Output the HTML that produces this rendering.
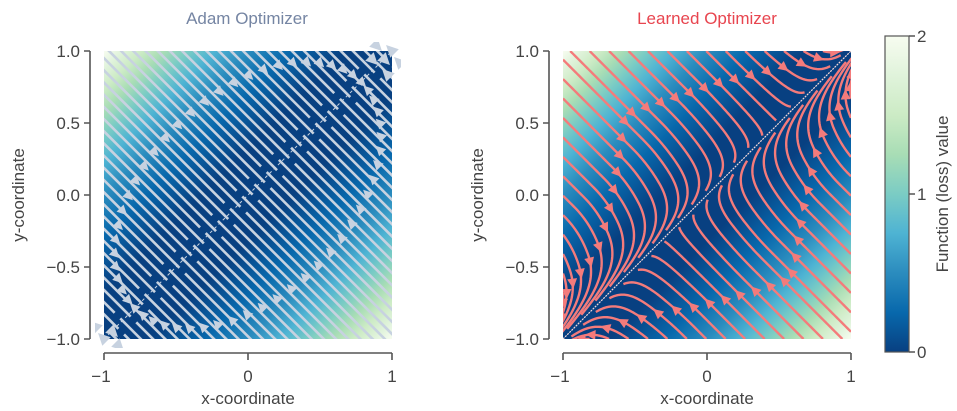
<!DOCTYPE html>
<html><head><meta charset="utf-8">
<style>
html,body{margin:0;padding:0;background:#fff;width:957px;height:411px;overflow:hidden;}
svg{display:block;font-family:"Liberation Sans",Helvetica,Arial,sans-serif;}
</style></head>
<body>
<svg id="s" width="957" height="411" viewBox="0 0 957 411" xmlns="http://www.w3.org/2000/svg">
<defs>
<linearGradient id="bgL" gradientUnits="userSpaceOnUse" x1="104" y1="51" x2="392" y2="339">
<stop offset="0" stop-color="#f7fcf0"/><stop offset="0.032" stop-color="#e0f3db"/><stop offset="0.067" stop-color="#ccebc5"/><stop offset="0.105" stop-color="#a8ddb5"/><stop offset="0.146" stop-color="#7bccc4"/><stop offset="0.194" stop-color="#4eb3d3"/><stop offset="0.25" stop-color="#2b8cbe"/><stop offset="0.323" stop-color="#0868ac"/><stop offset="0.42" stop-color="#084081"/><stop offset="0.58" stop-color="#084081"/><stop offset="0.677" stop-color="#0868ac"/><stop offset="0.75" stop-color="#2b8cbe"/><stop offset="0.806" stop-color="#4eb3d3"/><stop offset="0.854" stop-color="#7bccc4"/><stop offset="0.895" stop-color="#a8ddb5"/><stop offset="0.933" stop-color="#ccebc5"/><stop offset="0.968" stop-color="#e0f3db"/><stop offset="1" stop-color="#f7fcf0"/>
</linearGradient>
<linearGradient id="bgR" gradientUnits="userSpaceOnUse" x1="563" y1="51" x2="851" y2="339">
<stop offset="0" stop-color="#f7fcf0"/><stop offset="0.032" stop-color="#e0f3db"/><stop offset="0.067" stop-color="#ccebc5"/><stop offset="0.105" stop-color="#a8ddb5"/><stop offset="0.146" stop-color="#7bccc4"/><stop offset="0.194" stop-color="#4eb3d3"/><stop offset="0.25" stop-color="#2b8cbe"/><stop offset="0.323" stop-color="#0868ac"/><stop offset="0.42" stop-color="#084081"/><stop offset="0.58" stop-color="#084081"/><stop offset="0.677" stop-color="#0868ac"/><stop offset="0.75" stop-color="#2b8cbe"/><stop offset="0.806" stop-color="#4eb3d3"/><stop offset="0.854" stop-color="#7bccc4"/><stop offset="0.895" stop-color="#a8ddb5"/><stop offset="0.933" stop-color="#ccebc5"/><stop offset="0.968" stop-color="#e0f3db"/><stop offset="1" stop-color="#f7fcf0"/>
</linearGradient>
<linearGradient id="cb" x1="0" y1="1" x2="0" y2="0">
<stop offset="0" stop-color="#084081"/><stop offset="0.125" stop-color="#0868ac"/><stop offset="0.25" stop-color="#2b8cbe"/><stop offset="0.375" stop-color="#4eb3d3"/><stop offset="0.5" stop-color="#7bccc4"/><stop offset="0.625" stop-color="#a8ddb5"/><stop offset="0.75" stop-color="#ccebc5"/><stop offset="0.875" stop-color="#e0f3db"/><stop offset="1" stop-color="#f7fcf0"/>
</linearGradient>
<clipPath id="cL"><rect x="104" y="51" width="288" height="288"/></clipPath>
<clipPath id="cL2"><rect x="95" y="42" width="306" height="306"/></clipPath>
<clipPath id="cR"><rect x="563" y="51" width="288" height="288"/></clipPath>
</defs>

<text x="247" y="24" text-anchor="middle" font-size="17" fill="#7585a3">Adam Optimizer</text>
<text x="707" y="24" text-anchor="middle" font-size="17" fill="#e8454f">Learned Optimizer</text>

<rect x="104" y="51" width="288" height="288" fill="url(#bgL)"/>
<rect x="563" y="51" width="288" height="288" fill="url(#bgR)"/>
<g id="gL" clip-path="url(#cL)"></g>
<g id="gL2" clip-path="url(#cL2)"></g>
<g id="gR" clip-path="url(#cR)"></g>

<g stroke="#555" stroke-width="1.6" fill="none">
<path d="M90 51V339M84 51H90M84 123H90M84 195H90M84 267H90M84 339H90"/>
<path d="M104 353H392M104 353V360M248 353V360M392 353V360"/>
<path d="M549 51V339M543 51H549M543 123H549M543 195H549M543 267H549M543 339H549"/>
<path d="M563 353H851M563 353V360M707 353V360M851 353V360"/>
<path d="M909 36H915M909 194H915M909 352H915"/>
</g>
<g font-size="17" fill="#444">
<g text-anchor="end">
<text x="80" y="57">1.0</text><text x="80" y="129">0.5</text><text x="80" y="201">0.0</text><text x="80" y="273">−0.5</text><text x="80" y="345">−1.0</text>
<text x="539" y="57">1.0</text><text x="539" y="129">0.5</text><text x="539" y="201">0.0</text><text x="539" y="273">−0.5</text><text x="539" y="345">−1.0</text>
</g>
<g text-anchor="middle">
<text x="101" y="382">−1</text><text x="248" y="382">0</text><text x="392" y="382">1</text>
<text x="560" y="382">−1</text><text x="707" y="382">0</text><text x="851" y="382">1</text>
<text x="248" y="404">x-coordinate</text><text x="707" y="404">x-coordinate</text>
<text transform="translate(24,195) rotate(-90)">y-coordinate</text>
<text transform="translate(483,195) rotate(-90)">y-coordinate</text>
<text transform="translate(948,194) rotate(-90)">Function (loss) value</text>
</g>
<text x="917" y="42">2</text><text x="917" y="200">1</text><text x="917" y="358">0</text>
</g>
<rect x="885" y="36" width="24" height="316" fill="url(#cb)" stroke="#555" stroke-width="1.2"/>

<script>
var NS="http://www.w3.org/2000/svg";
function el(p,t,a){var e=document.createElementNS(NS,t);for(var k in a)e.setAttribute(k,a[k]);p.appendChild(e);return e;}
var R2=Math.SQRT2;
var gL=document.getElementById("gL"),gL2=document.getElementById("gL2");
var X0=104,Y0=51,W=288,cx=248,cy=195;
var lc="#c7d2e0";
el(gL,"line",{x1:X0,y1:Y0+W,x2:X0+W,y2:Y0,stroke:lc,"stroke-width":1,"stroke-dasharray":"3 3"});
var i=0;
for(var u=-300;u<=300;u+=12.2,i++){
  var mx=cx+u/2,my=cy-u/2;
  var off=(i%2?7:-7), gap=4, L=260;
  var a1=(off-gap)/R2, a2=(off+gap)/R2;
  el(gL,"line",{x1:mx-L,y1:my-L,x2:mx+a1,y2:my+a1,stroke:lc,"stroke-width":2.6});
  el(gL,"line",{x1:mx+a2,y1:my+a2,x2:mx+L,y2:my+L,stroke:lc,"stroke-width":2.6});
}
function arrow(g,px,py,ux,uy,c,sz){
  var vx=-uy, vy=ux;
  var tip=[px+ux*7*sz,py+uy*7*sz], b1=[px-ux*3*sz+vx*5*sz,py-uy*3*sz+vy*5*sz], b2=[px-ux*3*sz-vx*5*sz,py-uy*3*sz-vy*5*sz];
  el(g,"polygon",{points:tip+" "+b1+" "+b2,fill:c});
}
var A=160,B=100;
for(var k=0;k<56;k++){
  var t=k/56*2*Math.PI;
  var dd=A*Math.cos(t), nn=B*Math.sin(t);
  var px=cx+(dd+nn)/R2, py=cy+(-dd+nn)/R2;
  var s=nn>0?-1:1;
  arrow(gL2,px,py,s/R2,s/R2,lc,1);
}
[[104,339],[112,331],[96,327],[118,345],[392,51],[384,59],[400,63],[376,45],[388,75],[372,59]].forEach(function(p,j){
  var s=(j%2)?1:-1; arrow(gL2,p[0],p[1],s/R2,s/R2,lc,1.2);
});
var gR=document.getElementById("gR");
var X1=563;
el(gR,"line",{x1:X1,y1:Y0+W,x2:X1+W,y2:Y0,stroke:"#f3d7d7","stroke-width":1.2,"stroke-dasharray":"2 1"});
var col="#f47b7b";
function toPx(x,y){return [X1+(x+1)/2*W, Y0+(1-y)/2*W];}
function trace(x,y){
  var pts=[];
  for(var s=0;s<400;s++){
    var p=(x+y)/R2,q=(x-y)/R2;
    var p0=q<0?0.7:-0.4;
    var f=Math.max(0,1-Math.abs(q)/0.6);
    var dq=-Math.sign(q)*Math.min(1,Math.abs(q)/0.3), dp=0.6*(p-p0)*f;
    var vx=(dp+dq)/R2, vy=(dp-dq)/R2;
    var m=Math.hypot(vx,vy); if(m<0.02)break;
    pts.push(toPx(x,y));
    x+=vx/m*0.012; y+=vy/m*0.012;
    if(Math.abs(q)<0.03)break;
    if(x<-1.02||x>1.02||y<-1.02||y>1.02)break;
  }
  return pts;
}
var starts=[];
for(var v=-0.95;v<=0.96;v+=0.135){starts.push([-1,v]);starts.push([1,v]);starts.push([v,1]);starts.push([v,-1]);}
starts.forEach(function(s0){
  if(Math.abs(s0[0]-s0[1])<0.15)return;
  var pts=trace(s0[0],s0[1]);
  if(pts.length<4)return;
  el(gR,"polyline",{points:pts.join(" "),fill:"none",stroke:col,"stroke-width":2.4});
  var j=Math.floor(pts.length*0.4); if(j<1)j=1;
  var a=pts[j-1],b=pts[j],dx=b[0]-a[0],dy=b[1]-a[1],m=Math.hypot(dx,dy)||1;dx/=m;dy/=m;
  arrow(gR,b[0],b[1],dx,dy,col,1);
});
</script>
</svg>
</body></html>
